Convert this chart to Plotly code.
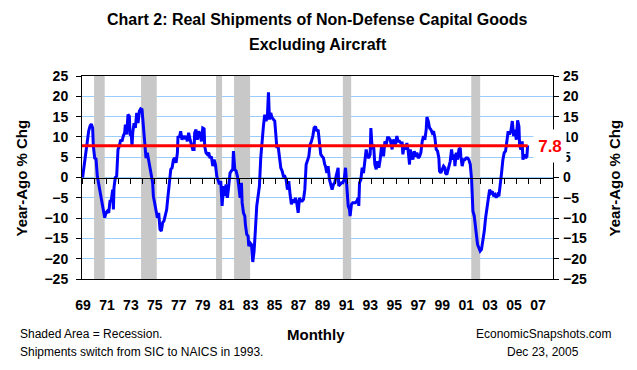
import plotly.graph_objects as go

# ---- data ----
dates = [
    1969.05, 1969.17, 1969.33, 1969.44, 1969.55, 1969.66, 1969.77, 1969.88, 1969.94, 1970.05,
    1970.16, 1970.27, 1970.38, 1970.49, 1970.60, 1970.71, 1970.82, 1970.88, 1970.99, 1971.10,
    1971.21, 1971.32, 1971.43, 1971.54, 1971.60, 1971.65, 1971.76, 1971.87, 1971.98, 1972.09,
    1972.20, 1972.31, 1972.42, 1972.53, 1972.59, 1972.70, 1972.81, 1972.92, 1972.98, 1973.09,
    1973.14, 1973.20, 1973.31, 1973.42, 1973.53, 1973.64, 1973.75, 1973.86, 1973.97, 1974.08,
    1974.14, 1974.25, 1974.30, 1974.41, 1974.52, 1974.63, 1974.74, 1974.85, 1974.91, 1975.02,
    1975.13, 1975.24, 1975.35, 1975.46, 1975.57, 1975.68, 1975.79, 1975.90, 1976.01, 1976.12,
    1976.24, 1976.35, 1976.46, 1976.57, 1976.68, 1976.79, 1976.90, 1976.95, 1977.06, 1977.17,
    1977.28, 1977.39, 1977.50, 1977.61, 1977.72, 1977.83, 1977.95, 1978.06, 1978.17, 1978.28,
    1978.33, 1978.44, 1978.55, 1978.67, 1978.78, 1978.89, 1979.00, 1979.11,
    1979.16, 1979.27, 1979.38, 1979.49, 1979.60, 1979.71, 1979.83, 1979.94, 1980.05, 1980.16,
    1980.27, 1980.38, 1980.49, 1980.60, 1980.71, 1980.82, 1980.93, 1981.04, 1981.15, 1981.26,
    1981.37, 1981.48, 1981.54, 1981.65, 1981.76, 1981.87, 1981.98, 1982.09, 1982.20, 1982.26,
    1982.37, 1982.48, 1982.53, 1982.64, 1982.75, 1982.81, 1982.92, 1983.03, 1983.14, 1983.25,
    1983.36, 1983.47, 1983.58, 1983.69, 1983.80, 1983.91, 1984.02, 1984.13, 1984.24, 1984.35,
    1984.44, 1984.52, 1984.63, 1984.74, 1984.85, 1984.96, 1985.07, 1985.13, 1985.24, 1985.35,
    1985.46, 1985.57, 1985.68, 1985.79, 1985.90, 1986.01, 1986.12, 1986.23, 1986.34, 1986.45,
    1986.56, 1986.67, 1986.78, 1986.90, 1987.01, 1987.12, 1987.23, 1987.34, 1987.45, 1987.56,
    1987.67, 1987.78, 1987.89, 1988.00, 1988.11, 1988.22, 1988.33, 1988.44, 1988.55, 1988.66,
    1988.77, 1988.88, 1988.99, 1989.10,
    1989.16, 1989.27, 1989.38, 1989.49, 1989.60, 1989.71, 1989.82, 1989.93, 1990.04, 1990.15,
    1990.21, 1990.26, 1990.37, 1990.49, 1990.60, 1990.71, 1990.82, 1990.87, 1990.93, 1991.04,
    1991.15, 1991.20, 1991.31, 1991.42, 1991.54, 1991.65, 1991.76, 1991.87, 1991.92, 1991.98,
    1992.09, 1992.20, 1992.31, 1992.42, 1992.53, 1992.64, 1992.75, 1992.86, 1992.92, 1993.03,
    1993.14, 1993.25, 1993.36, 1993.47, 1993.58, 1993.69, 1993.80, 1993.91, 1993.97, 1994.08,
    1994.19, 1994.30, 1994.41, 1994.52, 1994.63, 1994.68, 1994.74, 1994.85, 1994.96, 1995.07,
    1995.18, 1995.29, 1995.40, 1995.51, 1995.57, 1995.68, 1995.79, 1995.90, 1996.01, 1996.12,
    1996.17, 1996.29, 1996.40, 1996.51, 1996.62, 1996.73, 1996.84, 1996.95, 1997.06, 1997.17,
    1997.28, 1997.39, 1997.50, 1997.56, 1997.67, 1997.78, 1997.89, 1998.00, 1998.11, 1998.22,
    1998.33, 1998.44, 1998.55, 1998.60, 1998.71, 1998.83, 1998.94, 1999.05,
    1999.10, 1999.21, 1999.32, 1999.43, 1999.49, 1999.60, 1999.71, 1999.82, 1999.88, 1999.99,
    2000.10, 2000.21, 2000.32, 2000.37, 2000.48, 2000.59, 2000.70, 2000.81, 2000.92, 2001.03,
    2001.15, 2001.26, 2001.31, 2001.37, 2001.48, 2001.53, 2001.64, 2001.75, 2001.86, 2001.97,
    2002.08, 2002.19, 2002.31, 2002.42, 2002.53, 2002.64, 2002.75, 2002.86, 2002.97, 2003.08,
    2003.19, 2003.30, 2003.41, 2003.52, 2003.63, 2003.74, 2003.85, 2003.96, 2004.07, 2004.18,
    2004.29, 2004.40, 2004.51, 2004.63, 2004.74, 2004.85, 2004.96, 2005.07, 2005.18, 2005.23,
    2005.34, 2005.45, 2005.51, 2005.62, 2005.73, 2005.84, 2005.90,
]

yoy_pct = [
    0.0, 2.8, 5.2, 8.1, 11.4, 12.6, 13.2, 12.2, 7.7, 4.8,
    4.6, 0.3, -1.7, -3.4, -4.6, -6.6, -9.1, -9.9, -8.7, -8.3,
    -8.7, -5.8, -5.6, -3.0, -7.9, -2.5, 0.0, 0.3, 6.9, 7.7,
    9.3, 8.9, 10.2, 11.0, 13.0, 10.6, 15.5, 15.1, 10.6, 10.2,
    7.7, 11.0, 13.4, 12.2, 15.9, 13.4, 16.3, 16.9, 16.7, 13.0,
    11.8, 7.3, 4.8, 6.1, 4.4, 2.8, 0.7, -1.3, -4.6, -6.2,
    -8.3, -9.9, -8.7, -12.8, -13.2, -11.1, -10.7, -9.5, -7.9, -4.6,
    -1.7, 2.0, 2.4, 4.4, 4.8, 3.6, 6.1, 10.2, 9.8, 11.4,
    9.3, 10.2, 9.8, 10.2, 8.9, 11.0, 9.3, 8.1, 6.9, 6.9,
    11.0, 11.8, 9.3, 11.4, 10.6, 8.9, 12.2, 12.0,
    7.7, 6.1, 5.7, 6.1, 4.8, 5.2, 2.8, 4.4, 3.2, 0.3,
    -0.9, -1.7, -0.9, -7.0, -2.1, -4.6, -1.7, -5.0, -2.1, 1.1,
    1.6, 2.0, 6.5, 2.0, 1.6, 0.3, -2.1, -5.0, -1.3, -6.2,
    -8.7, -9.5, -11.6, -14.0, -14.4, -16.9, -16.1, -16.5, -20.8, -18.1,
    -12.8, -7.0, -4.6, -2.1, 4.8, 9.3, 12.6, 15.5, 13.9, 15.1,
    21.0, 14.3, 15.9, 14.7, 14.3, 13.9, 9.8, 7.3, 7.7, 4.8,
    2.4, 1.6, 0.3, 0.3, -0.5, -3.0, -0.9, -4.2, -6.6, -5.4,
    -6.2, -5.0, -6.2, -8.7, -5.0, -5.8, -5.8, -5.4, -3.0, 3.2,
    4.4, 5.2, 8.1, 8.9, 10.2, 12.2, 12.6, 11.4, 11.8, 8.5,
    5.7, 5.2, 4.8, 3.2,
    2.8, 1.1, 2.8, -0.5, -2.1, -3.0, -1.7, -1.3, 0.3, 2.4,
    2.4, -2.1, -1.7, -1.3, -1.3, -0.5, 2.4, -0.5, -3.0, -7.0,
    -7.9, -9.5, -6.6, -6.2, -6.2, -6.2, -5.8, -5.0, -7.0, -1.3,
    -0.5, 2.4, 1.1, 4.4, 6.9, 5.2, 4.8, 5.7, 12.2, 6.9,
    8.1, 3.2, 2.0, 4.0, 2.4, 4.4, 7.7, 6.9, 5.2, 8.9,
    8.1, 9.8, 9.8, 9.3, 8.1, 6.9, 9.3, 8.9, 8.1, 10.2,
    8.9, 8.9, 8.5, 8.5, 5.7, 8.1, 6.9, 8.5, 6.5, 3.2,
    6.9, 5.2, 4.4, 6.5, 5.2, 6.1, 4.8, 5.2, 6.1, 8.9,
    10.2, 9.3, 11.8, 14.9, 13.9, 12.2, 11.8, 11.0, 11.4, 9.8,
    6.9, 6.5, 4.8, 1.6, 1.1, 2.0, 2.8, 2.4,
    1.1, 0.7, 2.0, 3.6, 4.0, 6.9, 4.4, 5.7, 2.8, 6.1,
    4.4, 6.9, 7.3, 5.2, 2.8, 4.4, 4.4, 4.8, 4.8, 4.4,
    3.2, -0.5, -3.0, -8.3, -9.5, -11.1, -13.6, -16.5, -17.3, -18.1,
    -17.7, -15.7, -13.2, -9.9, -7.9, -5.4, -3.0, -3.8, -3.4, -4.6,
    -4.2, -5.0, -4.2, -4.6, -2.1, 1.1, 4.4, 6.1, 6.5, 9.3,
    11.4, 10.6, 11.4, 13.9, 10.2, 11.8, 9.3, 14.1, 12.6, 8.1,
    6.9, 8.9, 4.4, 5.7, 4.8, 5.2, 7.9,
]

AVERAGE = 7.8

recession_start = [1970.00, 1973.89, 1980.10, 1981.59, 1990.60, 2001.23]
recession_end = [1970.88, 1975.19, 1980.60, 1982.92, 1991.29, 2001.97]

year_labels = ["69", "71", "73", "75", "77", "79", "81", "83", "85", "87",
               "89", "91", "93", "95", "97", "99", "01", "03", "05", "07"]

FONT = "Arial, Liberation Sans, sans-serif"

fig = go.Figure()

fig.add_trace(go.Scatter(
    x=dates, y=yoy_pct, mode="lines",
    line=dict(color="#0000FF", width=3),
    hoverinfo="skip", showlegend=False,
))
fig.add_trace(go.Scatter(
    x=[dates[0] - 0.05, dates[-1]], y=[AVERAGE, AVERAGE], mode="lines",
    line=dict(color="#FF0000", width=3),
    hoverinfo="skip", showlegend=False,
))
# helper traces to activate the secondary axes
fig.add_trace(go.Scatter(x=[0], y=[0], xaxis="x2", yaxis="y", mode="markers",
                         marker=dict(opacity=0), hoverinfo="skip", showlegend=False))
fig.add_trace(go.Scatter(x=[1990], y=[0], xaxis="x", yaxis="y2", mode="markers",
                         marker=dict(opacity=0), hoverinfo="skip", showlegend=False))

for s, e in zip(recession_start, recession_end):
    fig.add_shape(type="rect", xref="x", yref="y", x0=s, x1=e, y0=-25, y1=25,
                  fillcolor="#C8C8C8", line=dict(width=0), layer="between")

fig.update_layout(
    width=637, height=370,
    margin=dict(l=82, r=84, t=76, b=91),
    paper_bgcolor="white", plot_bgcolor="white",
    font=dict(family=FONT, color="black"),
    showlegend=False,
    xaxis=dict(
        range=[1969, 2008], anchor="free", position=0.5,
        tick0=1969, dtick=1, ticks="outside", ticklen=5, tickcolor="black",
        showticklabels=False, showgrid=False, zeroline=False,
        showline=True, linecolor="black", linewidth=1, automargin=False,
    ),
    xaxis2=dict(
        overlaying="x", anchor="y", side="bottom",
        range=[-0.0418, 19.626],
        tickmode="array", tickvals=list(range(len(year_labels))), ticktext=year_labels,
        ticks="", ticklabelstandoff=13,
        tickfont=dict(size=14, family=FONT, weight="bold"),
        showgrid=False, zeroline=False, automargin=False,
        showline=True, mirror=True, linecolor="black", linewidth=1,
    ),
    yaxis=dict(
        range=[-25, 25], dtick=5, tick0=-25,
        ticks="outside", ticklen=5, tickcolor="black",
        showgrid=True, gridcolor="#99CCFF", gridwidth=1,
        zeroline=False, showline=True, mirror="ticks",
        linecolor="black", linewidth=1, automargin=False,
        tickfont=dict(size=14, family=FONT, weight="bold"),
        ticklabelstandoff=5,
    ),
    yaxis2=dict(
        overlaying="y", side="right", anchor="x",
        range=[-25, 25], dtick=5, tick0=-25,
        ticks="", showgrid=False, zeroline=False, showline=False, automargin=False,
        tickfont=dict(size=14, family=FONT, weight="bold"),
        ticklabelstandoff=9,
    ),
)

title_font = dict(size=16, family=FONT, color="black", weight="bold")
fig.add_annotation(text="Chart 2: Real Shipments of Non-Defense Capital Goods",
                   xref="paper", yref="paper", x=0.501, y=1.276,
                   xanchor="center", yanchor="middle", showarrow=False, font=title_font)
fig.add_annotation(text="Excluding Aircraft",
                   xref="paper", yref="paper", x=0.501, y=1.153,
                   xanchor="center", yanchor="middle", showarrow=False, font=title_font)

axis_title_font = dict(size=15, family=FONT, color="black", weight="bold")
for xp in (-0.1274, 1.1316):
    fig.add_annotation(text="Year-Ago % Chg", textangle=-90,
                       xref="paper", yref="paper", x=xp, y=0.5,
                       xanchor="center", yanchor="middle", showarrow=False,
                       font=axis_title_font)

fig.add_annotation(text=f"{AVERAGE}", xref="paper", yref="y", x=0.9936, y=AVERAGE,
                   xanchor="center", yanchor="middle", showarrow=False,
                   bgcolor="white", width=30, height=30,
                   font=dict(size=17, family=FONT, color="#FF0000", weight="bold"))

small = dict(size=12, family=FONT, color="black")
fig.add_annotation(text="Shaded Area = Recession.", xref="paper", yref="paper",
                   x=-0.1359, y=-0.271, xanchor="left", yanchor="middle",
                   showarrow=False, font=small)
fig.add_annotation(text="Shipments switch from SIC to NAICS in 1993.", xref="paper", yref="paper",
                   x=-0.1359, y=-0.360, xanchor="left", yanchor="middle",
                   showarrow=False, font=small)
fig.add_annotation(text="Monthly", xref="paper", yref="paper",
                   x=0.497, y=-0.271, xanchor="center", yanchor="middle",
                   showarrow=False, font=dict(size=15, family=FONT, color="black", weight="bold"))
fig.add_annotation(text="EconomicSnapshots.com", xref="paper", yref="paper",
                   x=0.979, y=-0.271, xanchor="center", yanchor="middle",
                   showarrow=False, font=small)
fig.add_annotation(text="Dec 23, 2005", xref="paper", yref="paper",
                   x=0.979, y=-0.360, xanchor="center", yanchor="middle",
                   showarrow=False, font=small)

fig.write_html("out.html", config={"displayModeBar": False},
               post_script="document.body.style.margin='0px';")
